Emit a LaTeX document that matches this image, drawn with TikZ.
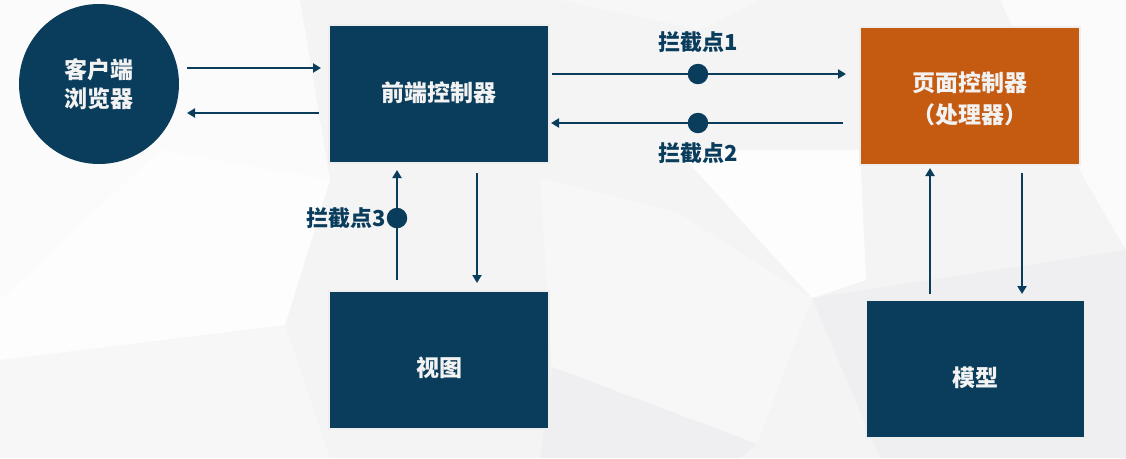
\documentclass[tikz,border=0pt]{standalone}
\usepackage{fontspec}
\newfontfamily\cjk{Noto Sans CJK SC}
\usetikzlibrary{arrows.meta,calc}

\definecolor{navy}{HTML}{0A3D5C}
\definecolor{rust}{HTML}{C55A11}
\definecolor{rim}{HTML}{EEEEEF}
\definecolor{paper}{HTML}{F4F4F5}
\definecolor{facetlight}{HTML}{FBFBFB}
\definecolor{facetwhite}{HTML}{FDFDFD}
\definecolor{facetgray}{HTML}{EFEFF1}
\definecolor{facetmid}{HTML}{F7F7F8}
\definecolor{ink}{HTML}{F2F2F2}

\tikzset{
  box/.style={rectangle, fill=navy, draw=rim, line width=2.5pt, outer sep=0pt,
    minimum width=220pt, minimum height=138pt, inner sep=0pt},
  boxtext/.style={text=ink, font=\cjk\bfseries\fontsize{23}{32}\selectfont,
    align=center, inner sep=0pt},
  hub/.style={circle, fill=navy, minimum size=160pt, inner sep=0pt, outer sep=0pt,
    text=ink, font=\cjk\bfseries\fontsize{23}{29}\selectfont, align=center},
  arr/.style={draw=navy, line width=2.8pt, -{Triangle[length=8pt,width=9pt]}},
  dot/.style={circle, fill=navy, minimum size=20.5pt, inner sep=0pt, outer sep=0pt},
  lbl/.style={text=navy, font=\cjk\bfseries\fontsize{22}{26}\selectfont, inner sep=0pt}
}

\begin{document}
\begin{tikzpicture}[x=1pt,y=-1pt]
  % soft low-poly backdrop
  \fill[paper] (0,0) rectangle (1126,458);
  \fill[facetlight] (0,0) -- (300,0) -- (330,180) -- (285,325) -- (0,360) -- cycle;
  \fill[facetmid] (0,360) -- (285,325) -- (330,458) -- (0,458) -- cycle;
  \fill[facetwhite] (160,150) -- (330,180) -- (285,325) -- (0,360) -- (0,300) -- cycle;
  \fill[facetmid] (540,178) -- (677,212) -- (812,298) -- (757,444) -- (552,367) -- cycle;
  \fill[facetwhite] (677,150) -- (860,150) -- (866,280) -- (812,298) -- cycle;
  \fill[facetgray] (812,298) -- (1126,250) -- (1126,458) -- (880,458) -- cycle;
  \fill[facetgray] (552,367) -- (757,444) -- (740,458) -- (540,458) -- cycle;
  \fill[facetlight] (1000,0) -- (1126,0) -- (1126,250) -- (1085,180) -- cycle;
  \fill[facetmid] (560,0) -- (760,0) -- (700,30) -- cycle;
  \useasboundingbox (0,0) rectangle (1126,458);

  % components
  \node[hub] (browser) at (99,84) {客户端\\浏览器};
  \node[box, label={[boxtext, yshift=1pt]center:前端控制器}] (fc) at (439,94) {};
  \node[box, fill=rust, label={[boxtext, yshift=-3pt]center:页面控制器\\（处理器）}] (pc) at (970,96) {};
  \node[box, label={[boxtext, yshift=-8pt]center:视图}] (view) at (439,360) {};
  \node[box, minimum width=219pt, label={[boxtext, yshift=-9pt]center:模型}] (model) at (975.5,369) {};

  % levels of the horizontal connectors
  \coordinate (yA) at (0,68);
  \coordinate (yB) at (0,113);
  \coordinate (yC) at (0,74);
  \coordinate (yD) at (0,123);
  % columns of the vertical connectors
  \coordinate (xE) at (397,0);
  \coordinate (xF) at (477,0);
  \coordinate (xG) at (930,0);
  \coordinate (xH) at (1022,0);

  % browser <-> front controller
  \draw[arr, shorten <=8pt, shorten >=8pt] (browser.east |- yA) -- (fc.west |- yA);
  \draw[arr, shorten <=10pt, shorten >=8pt] (fc.west |- yB) -- (browser.east |- yB);

  % front controller <-> page controller, with interception points
  \draw[arr, shorten <=3pt, shorten >=14pt] (fc.east |- yC) -- node[dot, pos=0.479] (d1) {} (pc.west |- yC);
  \draw[arr, shorten <=17pt, shorten >=2pt] (pc.west |- yD) -- node[dot, pos=0.521] (d2) {} (fc.east |- yD);
  \node[lbl] (l1) at ([yshift=32pt]d1.center) {拦截点1};
  \node[lbl] (l2) at ([yshift=-30pt]d2.center) {拦截点2};

  % front controller <-> view
  \draw[arr, shorten <=11pt, shorten >=7pt] (xE |- view.north) -- node[dot, pos=0.57] (d3) {} (xE |- fc.south);
  \draw[arr, shorten <=10pt, shorten >=8pt] (xF |- fc.south) -- (xF |- view.north);
  \node[lbl, anchor=east] (l3) at ([xshift=-1pt]d3.west) {拦截点3};

  % page controller <-> model
  \draw[arr, shorten <=6pt, shorten >=3pt] (xG |- model.north) -- (xG |- pc.south);
  \draw[arr, shorten <=8pt, shorten >=6pt] (xH |- pc.south) -- (xH |- model.north);
\end{tikzpicture}
\end{document}
